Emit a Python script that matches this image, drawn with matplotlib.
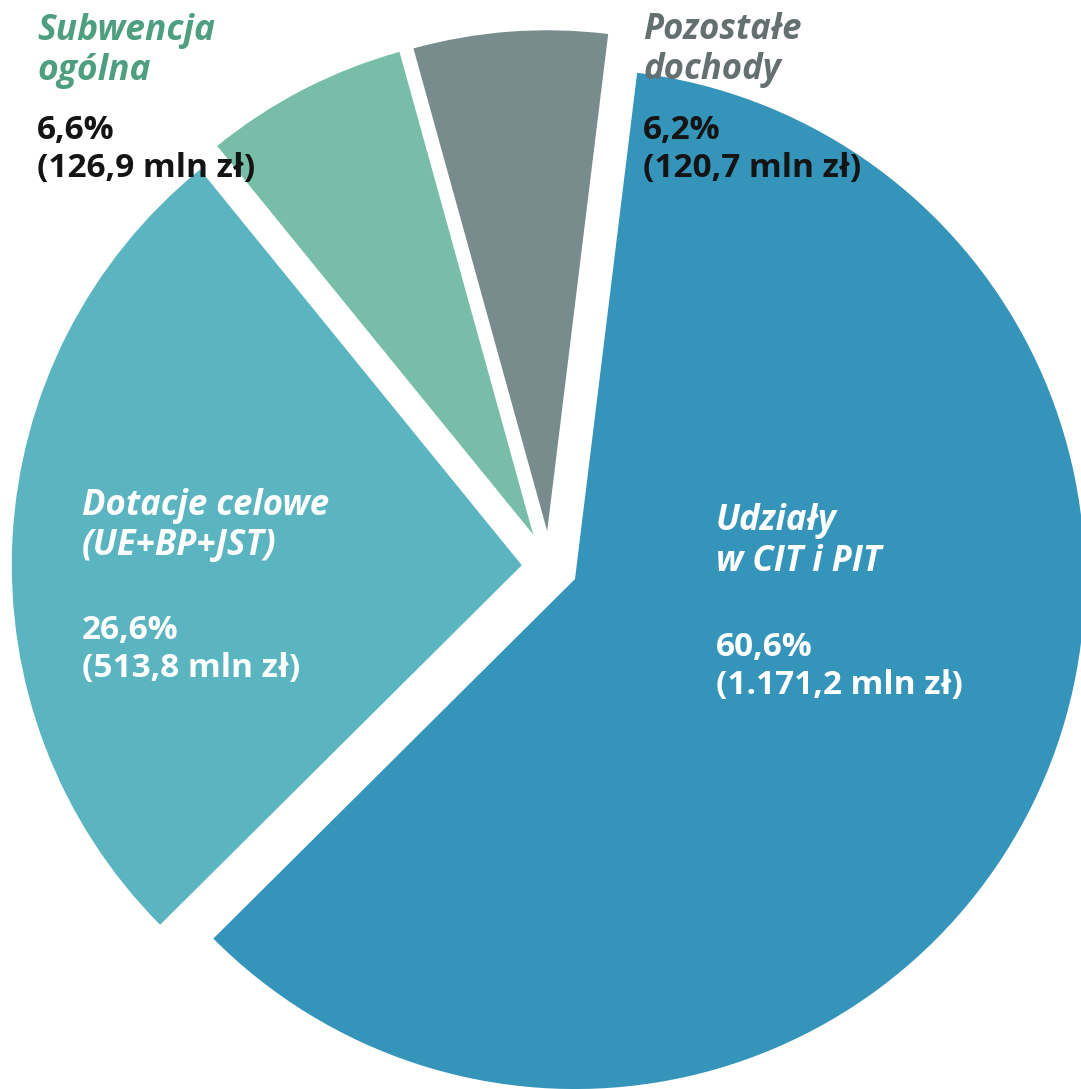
import matplotlib.pyplot as plt

# dochody (mln zł)
names = ["Udziały\nw CIT i PIT", "Dotacje celowe\n(UE+BP+JST)", "Subwencja\nogólna", "Pozostałe\ndochody"]
amounts = [1171.2, 513.8, 126.9, 120.7]
shares = ["60,6%", "26,6%", "6,6%", "6,2%"]
amount_labels = ["1.171,2", "513,8", "126,9", "120,7"]

colors = ["#3594BA", "#5BB5C0", "#77BDA7", "#798C8D"]
explode = [0.055, 0.055, 0.071, 0.070]

W, H = 1081, 1089
R = 510.0              # pie radius in px
cx, cy = 549.8, 566.7  # pie centre in px (from top-left)

fig = plt.figure(figsize=(W / 100, H / 100), dpi=100)
ax = fig.add_axes([0, 0, 1, 1])

wedges, _ = ax.pie(amounts, colors=colors, startangle=83.0, counterclock=False,
                   explode=explode, radius=1.0, wedgeprops=dict(linewidth=0))
# the two small slices are drawn a bit shorter
wedges[2].set_radius(0.982)
wedges[3].set_radius(0.982)

ax.set_xlim(-cx / R, (W - cx) / R)
ax.set_ylim(-(H - cy) / R, cy / R)
ax.set_aspect('equal', adjustable='datalim')
ax.axis('off')

FONT = ['Open Sans', 'DejaVu Sans']


def put(x, y, s, color, size=24, italic=False):
    fig.text(x / W, 1 - y / H, s, color=color, fontsize=size, fontweight='bold',
             fontstyle='italic' if italic else 'normal', family=FONT,
             ha='left', va='baseline')


def block(i, x, y, title_color, num_color, title_size, gap, step=40):
    t1, t2 = names[i].split("\n")
    put(x, y, t1, title_color, title_size, italic=True)
    put(x, y + step, t2, title_color, title_size, italic=True)
    put(x, y + gap, shares[i], num_color)
    put(x, y + gap + 38, "(" + amount_labels[i] + " mln zł)", num_color)


block(0, 716, 530, "white", "white", 25, 126, step=41)
block(1, 82, 515, "white", "white", 25, 124)
block(2, 37, 40, "#4E9E80", "#141414", 25.5, 99)
block(3, 643, 39, "#646F70", "#141414", 25, 100)

fig.savefig("out.png", dpi=100)
